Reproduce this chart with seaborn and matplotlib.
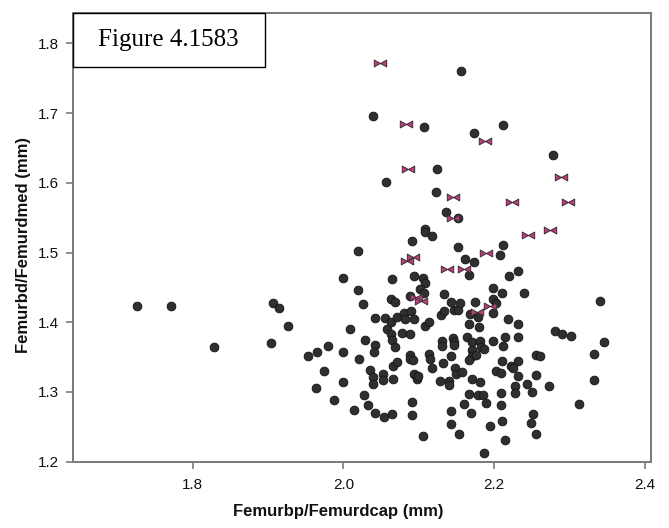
import numpy as np
import pandas as pd
import matplotlib
matplotlib.use("Agg")
import matplotlib.pyplot as plt
import seaborn as sns
from matplotlib.path import Path
from matplotlib.patches import Rectangle

# ---- data: circles ----
dot_x = [1.726, 1.772, 1.828, 1.904, 1.907, 1.915, 1.926, 1.953, 1.965, 1.979,
         1.974, 1.964, 1.987, 1.999, 1.999, 2.000, 2.009, 2.014, 2.019, 2.019,
         2.021, 2.026, 2.027, 2.033, 2.029, 2.042, 2.055, 2.063, 2.058, 2.063,
         2.065, 2.068, 2.042, 2.041, 2.071, 2.081, 2.082, 2.090, 2.094, 2.078,
         2.089, 2.108, 2.114, 2.129, 2.134, 2.147, 2.152, 2.168, 2.179, 2.180,
         2.167, 2.089, 2.088, 2.093, 2.066, 2.071, 2.035, 2.039, 2.039, 2.053,
         2.053, 2.066, 2.094, 2.098, 2.099, 2.114, 2.115, 2.118, 2.131, 2.131,
         2.132, 2.143, 2.146, 2.147, 2.147, 2.164, 2.170, 2.171, 2.171, 2.167,
         2.176, 2.181, 2.182, 2.187, 2.148, 2.149, 2.157, 2.128, 2.140, 2.140,
         2.170, 2.181, 2.167, 2.179, 2.185, 2.189, 2.160, 2.169, 2.154, 2.143,
         2.143, 2.106, 2.091, 2.091, 2.065, 2.054, 2.042, 2.187, 2.194, 2.211,
         2.214, 2.209, 2.209, 2.199, 2.214, 2.212, 2.232, 2.219, 2.232, 2.199,
         2.199, 2.203, 2.199, 2.211, 2.240, 2.155, 2.174, 2.143, 2.133, 2.089,
         2.063, 2.069, 2.106, 2.108, 2.102, 2.107, 2.094, 2.065, 2.167, 2.220,
         2.231, 2.161, 2.173, 2.208, 2.212, 2.152, 2.091, 2.108, 2.108, 2.117,
         2.152, 2.136, 2.123, 2.056, 2.124, 2.039, 2.107, 2.173, 2.212, 2.156,
         2.278, 2.340, 2.281, 2.290, 2.302, 2.346, 2.333, 2.333, 2.312, 2.273,
         2.255, 2.261, 2.255, 2.244, 2.250, 2.251, 2.249, 2.255, 2.232, 2.222,
         2.225, 2.232, 2.227, 2.227, 2.210, 2.203, 2.209]
dot_y = [1.424, 1.424, 1.364, 1.370, 1.427, 1.420, 1.395, 1.351, 1.357, 1.366,
         1.330, 1.306, 1.289, 1.358, 1.315, 1.463, 1.391, 1.274, 1.502, 1.446,
         1.348, 1.426, 1.296, 1.282, 1.375, 1.406, 1.406, 1.400, 1.390, 1.383,
         1.374, 1.364, 1.368, 1.358, 1.407, 1.414, 1.404, 1.416, 1.404, 1.385,
         1.383, 1.394, 1.400, 1.410, 1.416, 1.417, 1.418, 1.412, 1.407, 1.393,
         1.398, 1.353, 1.347, 1.346, 1.337, 1.343, 1.332, 1.322, 1.312, 1.326,
         1.317, 1.319, 1.326, 1.318, 1.323, 1.354, 1.347, 1.334, 1.373, 1.366,
         1.341, 1.352, 1.377, 1.372, 1.367, 1.379, 1.371, 1.360, 1.351, 1.346,
         1.353, 1.373, 1.365, 1.361, 1.334, 1.326, 1.329, 1.316, 1.316, 1.310,
         1.318, 1.314, 1.297, 1.295, 1.296, 1.284, 1.283, 1.270, 1.240, 1.273,
         1.254, 1.237, 1.286, 1.267, 1.268, 1.264, 1.270, 1.212, 1.251, 1.258,
         1.231, 1.299, 1.282, 1.373, 1.379, 1.366, 1.379, 1.404, 1.398, 1.413,
         1.433, 1.428, 1.449, 1.442, 1.442, 1.428, 1.429, 1.429, 1.440, 1.437,
         1.433, 1.429, 1.463, 1.456, 1.448, 1.442, 1.467, 1.462, 1.468, 1.467,
         1.474, 1.491, 1.487, 1.496, 1.511, 1.508, 1.517, 1.534, 1.529, 1.524,
         1.550, 1.558, 1.587, 1.601, 1.620, 1.696, 1.680, 1.671, 1.683, 1.761,
         1.640, 1.430, 1.388, 1.383, 1.380, 1.372, 1.354, 1.317, 1.283, 1.308,
         1.353, 1.351, 1.325, 1.312, 1.300, 1.269, 1.255, 1.240, 1.344, 1.337,
         1.334, 1.323, 1.309, 1.298, 1.344, 1.330, 1.327]

# ---- data: bow-tie markers ----
bow_x = [2.048, 2.083, 2.188, 2.086, 2.145, 2.224, 2.288, 2.298, 2.274, 2.245,
         2.145, 2.092, 2.085, 2.138, 2.160, 2.096, 2.103, 2.189, 2.194, 2.177]
bow_y = [1.772, 1.685, 1.660, 1.620, 1.580, 1.573, 1.608, 1.573, 1.533, 1.525,
         1.549, 1.494, 1.488, 1.476, 1.477, 1.436, 1.430, 1.500, 1.423, 1.415]

x_ticks = [1.8, 2.0, 2.2, 2.4]
y_ticks = [1.2, 1.3, 1.4, 1.5, 1.6, 1.7, 1.8]
x_label = "Femurbp/Femurdcap (mm)"
y_label = "Femurbd/Femurdmed (mm)"
fig_label = "Figure 4.1583"

sns.set_theme(style="white")
plt.rcParams["font.family"] = ["Liberation Sans", "DejaVu Sans"]

fig = plt.figure(figsize=(6.69, 5.28), dpi=100)
ax = fig.add_axes([0.1087, 0.1256, 0.8639, 0.8498])

dots = pd.DataFrame({"x": dot_x, "y": dot_y})
bows = pd.DataFrame({"x": bow_x, "y": bow_y})

sns.scatterplot(data=dots, x="x", y="y", ax=ax, s=40, color="#2f2f2f",
                edgecolor="#151515", linewidth=0.6, zorder=3)

bowtie = Path([(-1, -0.55), (0, 0), (-1, 0.55), (-1, -0.55),
               (1, -0.55), (0, 0), (1, 0.55), (1, -0.55)],
              [Path.MOVETO, Path.LINETO, Path.LINETO, Path.CLOSEPOLY,
               Path.MOVETO, Path.LINETO, Path.LINETO, Path.CLOSEPOLY])
sns.scatterplot(data=bows, x="x", y="y", ax=ax, s=80, marker=bowtie,
                color="#c03a7e", edgecolor="#3a3035", linewidth=0.7, zorder=4)

ax.set_xlim(1.641, 2.4076)
ax.set_ylim(1.2, 1.8437)
ax.set_xticks(x_ticks)
ax.set_xticklabels([f"{v:.1f}" for v in x_ticks])
ax.set_yticks(y_ticks)
ax.set_yticklabels([f"{v:.1f}" for v in y_ticks])

for sp in ax.spines.values():
    sp.set_visible(True)
    sp.set_color("#7a7a7a")
    sp.set_linewidth(1.4)

ax.tick_params(axis="both", which="major", direction="out", length=5,
               width=1.2, color="#7a7a7a", labelsize=11, labelcolor="#111111",
               bottom=True, left=True)
ax.tick_params(axis="x", pad=7)
ax.tick_params(axis="y", pad=5)

ax.set_xlabel(x_label, fontsize=12, fontweight="bold", color="#111111")
ax.set_ylabel(y_label, fontsize=12, fontweight="bold", color="#111111")
ax.xaxis.set_label_coords(0.459, -0.095)
ax.yaxis.set_label_coords(-0.072, 0.483)

# figure label box in top-left corner
ax.add_patch(Rectangle((0.0, 0.8797), 0.332, 0.1203, transform=ax.transAxes,
                       facecolor="white", edgecolor="black", linewidth=1.0,
                       zorder=6, clip_on=False))
ax.text(0.166, 0.94, fig_label, transform=ax.transAxes, ha="center", va="center",
        fontsize=18, family=["Liberation Serif", "DejaVu Serif"], color="black", zorder=7)

fig.savefig("out.png", dpi=100)
